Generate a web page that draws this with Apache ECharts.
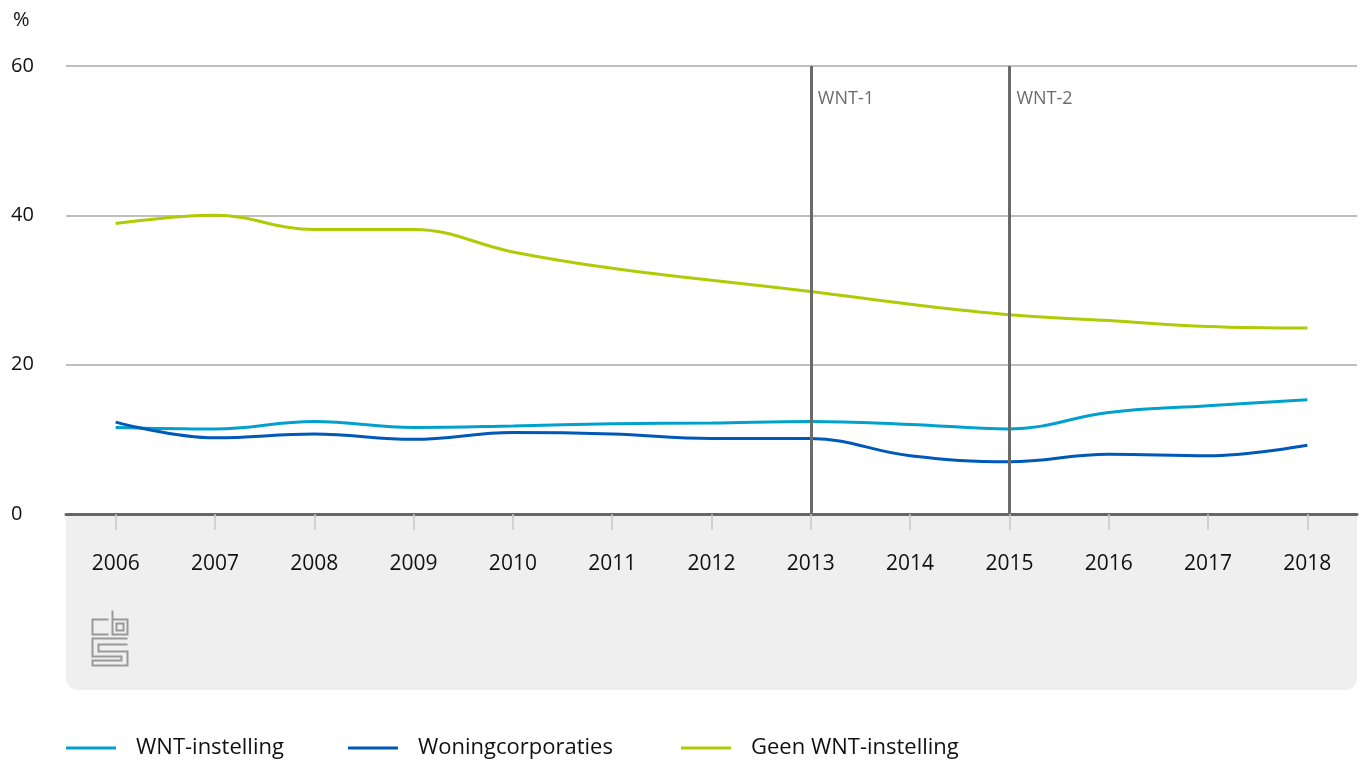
<!DOCTYPE html>
<html style="height: 100%">
<head>
    <meta charset="utf-8">
</head>
<body style="height: 100%; margin: 0; background: #fff">
    <div id="container" style="width: 1360px; height: 760px"></div>
    <script src="https://cdn.jsdelivr.net/npm/echarts@6/dist/echarts.min.js"></script>
    <script type="text/javascript">
        // data
        var years = ['2006', '2007', '2008', '2009', '2010', '2011', '2012', '2013', '2014', '2015', '2016', '2017', '2018'];
        var wntInstelling = [11.6, 11.4, 12.4, 11.6, 11.8, 12.1, 12.2, 12.4, 12.0, 11.4, 13.6, 14.5, 15.3];
        var woningcorporaties = [12.3, 10.2, 10.7, 10.0, 10.9, 10.7, 10.1, 10.1, 7.8, 7.0, 8.0, 7.8, 9.2];
        var geenWnt = [38.9, 40.0, 38.1, 38.1, 35.1, 32.9, 31.3, 29.8, 28.1, 26.7, 25.9, 25.1, 24.9];
        var yTicks = [0, 20, 40, 60];
        var seriesNames = ['WNT-instelling', 'Woningcorporaties', 'Geen WNT-instelling'];
        var markers = [{ year: '2013', label: 'WNT-1' }, { year: '2015', label: 'WNT-2' }];

        var font = '"Open Sans"';
        var dom = document.getElementById('container');
        var myChart = echarts.init(dom);

        function lineSeries(name, data, color, withMarks) {
            var s = {
                name: name,
                type: 'line',
                data: data,
                smooth: 0.4,
                symbol: 'none',
                color: color,
                lineStyle: { width: 3, color: color },
                z: 3
            };
            if (withMarks) {
                s.markLine = {
                    silent: true,
                    symbol: 'none',
                    label: { show: false },
                    lineStyle: { color: '#6b6b6b', width: 3, type: 'solid' },
                    data: markers.map(function (m) { return { xAxis: m.year }; }),
                    z: 4
                };
            }
            return s;
        }

        // one legend block per series so the spacing follows the reference
        var legendLeft = [61, 343, 676];
        var legends = seriesNames.map(function (n, i) {
            return {
                left: legendLeft[i],
                top: 732,
                icon: 'rect',
                itemWidth: 50,
                itemHeight: 3,
                textStyle: { fontFamily: font, fontSize: 22, color: '#111', padding: [0, 0, 0, 15] },
                data: [n]
            };
        });

        var option = {
            animation: false,
            textStyle: { fontFamily: font },
            grid: { left: 66, right: 3, top: 66, bottom: 246 },
            legend: legends,
            xAxis: {
                type: 'category',
                data: years,
                boundaryGap: true,
                axisLine: { lineStyle: { color: '#666', width: 3 } },
                axisTick: { show: true, alignWithLabel: true, length: 16, lineStyle: { color: '#c8c8c8', width: 1.5 } },
                axisLabel: { color: '#111', fontSize: 21, margin: 40, fontFamily: font }
            },
            yAxis: {
                type: 'value',
                min: yTicks[0],
                max: yTicks[yTicks.length - 1],
                interval: 20,
                axisLine: { show: false },
                axisTick: { show: false },
                axisLabel: { color: '#111', fontSize: 20, align: 'left', margin: 55, fontFamily: font },
                splitLine: { lineStyle: { color: '#aaaaaa', width: 1.5 } }
            },
            graphic: [
                {
                    type: 'rect', z: -10, silent: true,
                    shape: { x: 66, y: 514, width: 1291, height: 176, r: [0, 0, 12, 12] },
                    style: { fill: '#efefef' }
                },
                {
                    type: 'text', left: 13, top: 10,
                    style: { text: '%', fontSize: 20, fill: '#111', fontFamily: font }
                },
                {
                    // cbs logo
                    type: 'group', left: 90, top: 608,
                    children: [
                        { type: 'polyline', shape: { points: [[17, 9], [1, 9], [1, 24], [17, 24]] }, style: { stroke: '#999', lineWidth: 2, fill: null } },
                        { type: 'polyline', shape: { points: [[21, 0], [21, 24], [36, 24], [36, 9], [21, 9]] }, style: { stroke: '#999', lineWidth: 2, fill: null } },
                        { type: 'rect', shape: { x: 25, y: 13, width: 7, height: 7 }, style: { stroke: '#999', lineWidth: 2, fill: null } },
                        { type: 'polyline', shape: { points: [[36, 28], [1, 28], [1, 46], [30, 46], [30, 50], [1, 50], [1, 55], [36, 55], [36, 41], [7, 41], [7, 34], [36, 34]] }, style: { stroke: '#999', lineWidth: 2, fill: null } }
                    ]
                }
            ],
            series: [
                lineSeries(seriesNames[0], wntInstelling, '#00a1cd', true),
                lineSeries(seriesNames[1], woningcorporaties, '#0058b8', false),
                lineSeries(seriesNames[2], geenWnt, '#afcb05', false)
            ]
        };

        myChart.setOption(option, true);

        // labels next to the WNT marker lines, placed through the axis scale
        var top60 = myChart.convertToPixel({ yAxisIndex: 0 }, yTicks[yTicks.length - 1]);
        var extra = markers.map(function (m) {
            var px = myChart.convertToPixel({ xAxisIndex: 0 }, m.year);
            return {
                type: 'text', x: px + 7, y: top60 + 24,
                style: { text: m.label, fontSize: 18, fill: '#6b6b6b', fontFamily: font }
            };
        });
        myChart.setOption({ graphic: option.graphic.concat(extra) });
    </script>
</body>
</html>
